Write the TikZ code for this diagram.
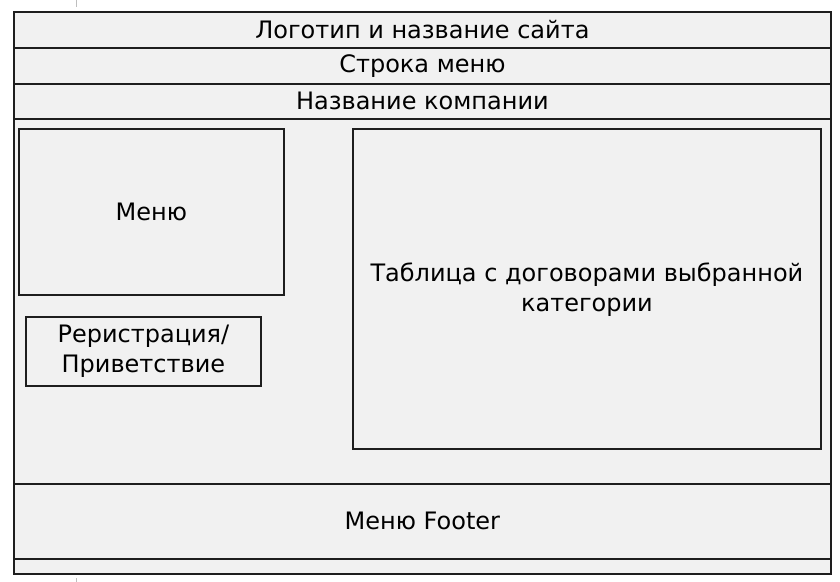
\documentclass[tikz,border=0pt]{standalone}
\usepackage{fontspec}
\setmainfont{DejaVu Sans}
\definecolor{panel}{RGB}{241,241,241}
\definecolor{edge}{RGB}{30,30,30}
\definecolor{tick}{RGB}{190,190,190}
\tikzset{
  box/.style={draw=edge, line width=1.8bp, fill=panel, inner sep=0pt, anchor=north west},
  lbl/.style={font=\fontsize{24bp}{30bp}\selectfont, text=black, align=center, inner sep=0pt},
}
\begin{document}
\begin{tikzpicture}[x=1bp,y=-1bp]
\useasboundingbox[fill=white] (0,0) rectangle (840,582);
% small tick marks
\draw[tick, line width=0.8bp] (76,0) -- (76,7);
\draw[tick, line width=0.8bp] (76,578) -- (76,582);
% outer frame and bands
\node[box, minimum width=817bp, minimum height=562bp, line width=2.2bp] (frame) at (13,11) {};
\node[box, minimum width=817bp, minimum height=36bp] (logo) at (13,11) {};
\node[box, minimum width=817bp, minimum height=36bp] (menubar) at (13,47) {};
\node[box, minimum width=817bp, minimum height=35bp] (company) at (13,83) {};
\node[box, minimum width=817bp, minimum height=365bp] (content) at (13,118) {};
\node[box, minimum width=817bp, minimum height=75bp] (footer) at (13,483) {};
\node[box, minimum width=817bp, minimum height=15bp] (strip) at (13,558) {};
% inner boxes
\node[box, minimum width=265bp, minimum height=166bp] (menu) at (18,128) {};
\node[box, minimum width=235bp, minimum height=69bp] (reg) at (25,316) {};
\node[box, minimum width=468bp, minimum height=320bp] (table) at (352,128) {};
% texts
\node[lbl] at (logo.center) {Логотип и название сайта};
\node[lbl] at (menubar.center) {Строка меню};
\node[lbl] at (company.center) {Название компании};
\node[lbl] at (menu.center) {Меню};
\node[lbl] at (reg.center) {Реристрация/\\Приветствие};
\node[lbl] at ([yshift=-1bp]table.center) {Таблица с договорами выбранной\\категории};
\node[lbl] at (footer.center) {Меню Footer};
\end{tikzpicture}
\end{document}
